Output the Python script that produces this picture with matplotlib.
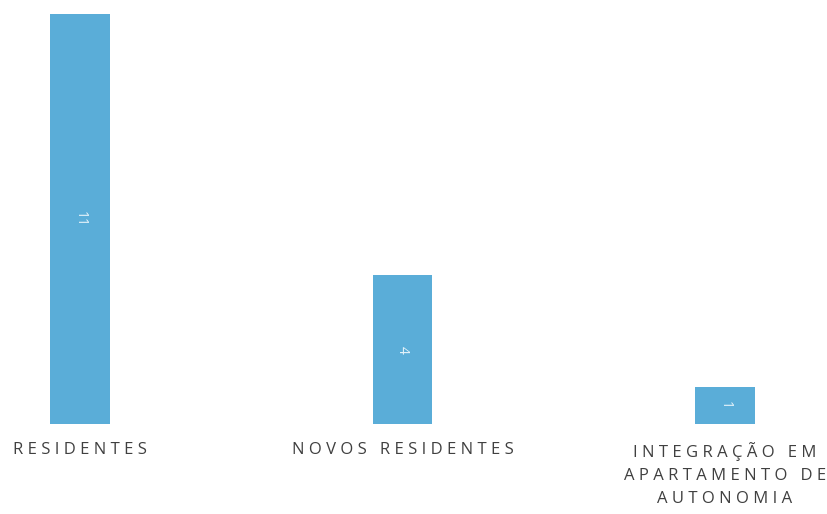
import matplotlib.pyplot as plt

categories = ["RESIDENTES", "NOVOS RESIDENTES", "INTEGRAÇÃO EM\nAPARTAMENTO DE\nAUTONOMIA"]
values = [11, 4, 1]

bar_colour = "#5aadd8"
text_colour = "#404040"


def spaced(label):
    # mimic the letter spacing of the original labels
    gap = "\u2009\u200a"
    return "\n".join((gap + " " + gap).join(gap.join(word) for word in line.split(" "))
                     for line in label.split("\n"))


fig = plt.figure(figsize=(8.27, 5.14), dpi=100)
ax = fig.add_axes([0, 90 / 514, 1, 410 / 514])

x = list(range(len(categories)))
bars = ax.bar(x, values, width=0.186, color=bar_colour)
ax.bar_label(bars, labels=[str(v) for v in values], label_type="center",
             rotation=-90, color="#e6f3fa", fontsize=10, family=["Open Sans", "DejaVu Sans"])

ax.set_xlim(-80 / 322.5, 747 / 322.5)
ax.set_ylim(0, 11)
ax.set_xticks(x)
ax.set_xticklabels([spaced(c) for c in categories], color=text_colour, fontsize=12,
                   family=["Open Sans", "DejaVu Sans"], linespacing=1.6)
ax.tick_params(axis="x", length=0, pad=13)
ax.set_yticks([])
for side in ["top", "right", "left", "bottom"]:
    ax.spines[side].set_visible(False)

fig.savefig("out.png", dpi=100)
